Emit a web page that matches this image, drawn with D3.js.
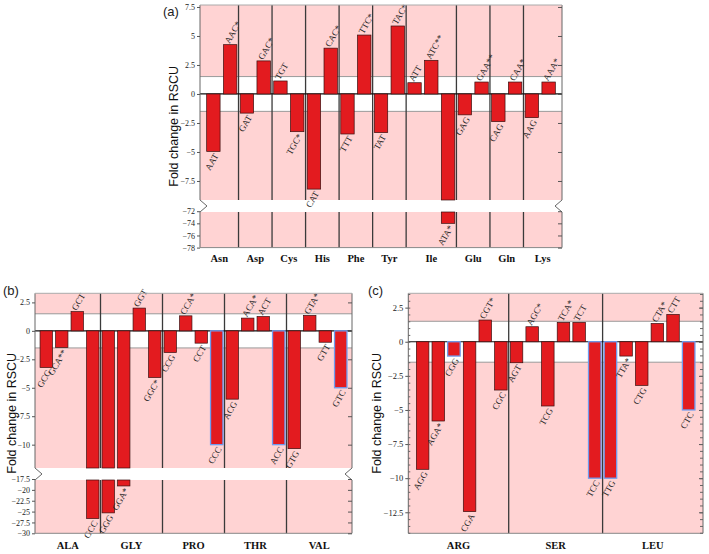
<!DOCTYPE html>
<html><head><meta charset="utf-8">
<script src="https://cdn.jsdelivr.net/npm/d3@7"></script>
<style>html,body{margin:0;padding:0;background:#fff;} svg{display:block;}</style>
</head><body>
<svg id="chart" width="709" height="554"></svg>
<script>
// ---------- data ----------
const aGroups = ["Asn","Asp","Cys","His","Phe","Tyr","Ile","Glu","Gln","Lys"];
const aSizes = [2,2,2,2,2,2,3,2,2,2];
const aCodons = ["AAT","AAC*","GAT","GAC*","TGT","TGC*","CAT","CAC*","TTT","TTC*","TAT","TAC*","ATT","ATC**","ATA*","GAG","GAA**","CAG","CAA*","AAG","AAA*"];
const aValues = [-4.95,4.25,-1.65,2.85,1.12,-3.25,-8.2,3.95,-3.45,5.08,-3.33,5.86,0.97,2.9,-74,-1.8,1.03,-2.38,1.03,-2.04,1.03];
const aCapped = [];
const aTicksUpper = [7.5,5,2.5,0,-2.5,-5,-7.5];
const aTicksLower = [-72,-74,-76,-78];

const bGroups = ["ALA","GLY","PRO","THR","VAL"];
const bSizes = [4,4,4,4,4];
const bCodons = ["GCG","GCA**","GCT","GCC","GGG","GGA*","GGT","GGC*","CCG","CCA*","CCT","CCC","ACG","ACA*","ACT","ACC","GTG","GTA*","GTT","GTC"];
const bValues = [-3.22,-1.46,1.69,-26.6,-25.3,-19.1,2.0,-4.1,-1.9,1.32,-1.08,-10,-6.0,1.12,1.26,-10,-10.35,1.36,-1.0,-5.0];
const bCapped = ["CCC","ACC","GTC"];
const bTicksUpper = [2.5,0,-2.5,-5,-7.5,-10];
const bTicksLower = [-17.5,-20,-22.5,-25,-27.5,-30];

const cGroups = ["ARG","SER","LEU"];
const cSizes = [6,6,6];
const cCodons = ["AGG","AGA*","CGG","CGA","CGT*","CGC","AGT","AGC*","TCG","TCA*","TCT","TCC","TTG","TTA*","CTG","CTA*","CTT","CTC"];
const cValues = [-9.35,-5.81,-1.05,-12.45,1.59,-3.54,-1.54,1.10,-4.71,1.42,1.42,-10,-10,-1.05,-3.2,1.34,2.0,-5.0];
const cCapped = ["CGG","TCC","TTG","CTC"];
const cTicks = [2.5,0,-2.5,-5,-7.5,-10,-12.5];

const yTitle = "Fold change in RSCU";

// ---------- style ----------
const PINK = "#ffd3d3", RED = "#e31b1f", BLUE = "#6f9cf0";
const SERIF = "'Liberation Serif','Times New Roman',serif";
const SANS = "'Liberation Sans',Arial,sans-serif";
const fmt = v => v < 0 ? "\u2212" + Math.abs(v) : String(v);

const svg = d3.select("#chart");

function drawPanel(cfg) {
  const g = svg.append("g");
  const n = cfg.codons.length;
  const x = d3.scaleBand().domain(d3.range(n))
    .range([cfg.left + cfg.pad, cfg.right - cfg.pad]).paddingInner(0.2).paddingOuter(0.1);
  const gap = (x.step() - x.bandwidth()) / 2;
  const yU = d3.scaleLinear().domain(cfg.upperDomain).range(cfg.upperRange);
  const yL = cfg.lowerDomain ? d3.scaleLinear().domain(cfg.lowerDomain).range(cfg.lowerRange) : null;
  const brk = yL ? cfg.upperDomain[1] : -Infinity;
  const top = cfg.upperRange[0];
  const bottom = yL ? cfg.lowerRange[1] : cfg.upperRange[1];
  const W = cfg.right - cfg.left;

  // background
  g.append("rect").attr("x", cfg.left).attr("y", top).attr("width", W).attr("height", bottom - top).attr("fill", PINK);
  g.append("rect").attr("x", cfg.left).attr("y", yU(1.5)).attr("width", W).attr("height", yU(-1.5) - yU(1.5)).attr("fill", "#fff");
  [1.5, -1.5].forEach(v => g.append("line").attr("x1", cfg.left).attr("x2", cfg.right)
    .attr("y1", yU(v)).attr("y2", yU(v)).attr("stroke", "#9a9a9a").attr("stroke-width", 1));

  // group separators
  let cum = 0;
  const groupSpans = [];
  cfg.sizes.forEach((s, gi) => {
    const x0 = gi === 0 ? cfg.left : x(cum) - gap;
    const x1 = gi === cfg.sizes.length - 1 ? cfg.right : x(cum + s - 1) + x.bandwidth() + gap;
    groupSpans.push([x0, x1]);
    if (gi > 0) g.append("line").attr("x1", x0).attr("x2", x0).attr("y1", top).attr("y2", bottom)
      .attr("stroke", "#3a3a3a").attr("stroke-width", 1.3);
    cum += s;
  });

  // break band
  if (yL) {
    g.append("rect").attr("x", cfg.left).attr("y", cfg.upperRange[1]).attr("width", W)
      .attr("height", cfg.lowerRange[0] - cfg.upperRange[1]).attr("fill", "#fff");
  }

  // zero line
  g.append("line").attr("x1", cfg.left).attr("x2", cfg.right).attr("y1", yU(0)).attr("y2", yU(0))
    .attr("stroke", "#111").attr("stroke-width", 1.2);

  // bars
  cfg.values.forEach((v, i) => {
    const capped = cfg.capped.includes(cfg.codons[i]);
    const stroke = capped ? BLUE : "#3a1010";
    const sw = capped ? 1.3 : 0.7;
    const pieces = [];
    if (v >= 0) pieces.push([yU(v), yU(0)]);
    else if (yL && v < brk) { pieces.push([yU(0), cfg.upperRange[1]]); pieces.push([cfg.lowerRange[0], yL(v)]); }
    else pieces.push([yU(0), yU(v)]);
    pieces.forEach(p => g.append("rect").attr("x", x(i)).attr("y", p[0]).attr("width", x.bandwidth())
      .attr("height", p[1] - p[0]).attr("fill", RED).attr("stroke", stroke).attr("stroke-width", sw));
  });

  // codon labels
  cfg.codons.forEach((c, i) => {
    const v = cfg.values[i];
    const cx = x(i) + x.bandwidth() / 2;
    if (v >= 0) {
      const y = yU(v) - 2;
      g.append("text").attr("transform", `translate(${cx - 3},${y}) rotate(-60)`)
        .attr("text-anchor", "start").attr("font-family", SERIF).attr("font-size", cfg.lfs).attr("fill", "#222")
        .attr("dy", "0.3em").text(c);
    } else {
      const y = ((yL && v < brk) ? yL(v) : yU(v)) + 3;
      g.append("text").attr("transform", `translate(${cx + 3},${y}) rotate(-60)`)
        .attr("text-anchor", "end").attr("font-family", SERIF).attr("font-size", cfg.lfs).attr("fill", "#222")
        .attr("dy", "0.3em").text(c);
    }
  });

  // axes lines with break chevrons
  const chev = 7;
  function axisPath(xe, dir) {
    if (!yL) return `M${xe},${top}V${bottom}`;
    const m = (cfg.upperRange[1] + cfg.lowerRange[0]) / 2;
    return `M${xe},${top}V${cfg.upperRange[1]}L${xe + dir * chev},${m}L${xe},${cfg.lowerRange[0]}V${bottom}`;
  }
  g.append("path").attr("d", axisPath(cfg.left, 1)).attr("fill", "none").attr("stroke", "#666").attr("stroke-width", 1);
  g.append("path").attr("d", axisPath(cfg.right, -1)).attr("fill", "none").attr("stroke", "#666").attr("stroke-width", 1);
  g.append("line").attr("x1", cfg.left).attr("x2", cfg.right).attr("y1", top).attr("y2", top).attr("stroke", "#aaa");
  g.append("line").attr("x1", cfg.left).attr("x2", cfg.right).attr("y1", bottom).attr("y2", bottom).attr("stroke", "#888");

  function addAxis(scale, ticks) {
    const la = g.append("g").attr("transform", `translate(${cfg.left},0)`)
      .call(d3.axisLeft(scale).tickValues(ticks).tickSize(3).tickPadding(2).tickFormat(fmt));
    la.select(".domain").remove();
    la.selectAll("text").attr("font-family", cfg.tickFont).attr("font-size", cfg.tfs).attr("fill", "#222");
    la.selectAll("line").attr("stroke", "#555");
    const ra = g.append("g").attr("transform", `translate(${cfg.right},0)`)
      .call(d3.axisLeft(scale).tickValues(ticks).tickSize(4).tickFormat(""));
    ra.select(".domain").remove();
    ra.selectAll("line").attr("stroke", "#555");
  }
  addAxis(yU, cfg.ticksUpper);
  if (yL) addAxis(yL, cfg.ticksLower);
  if (cfg.minor) {
    const mt = cfg.minor;
    const ml = g.append("g").attr("transform", `translate(${cfg.left},0)`)
      .call(d3.axisRight(yU).tickValues(mt).tickSize(2).tickFormat(""));
    ml.select(".domain").remove(); ml.selectAll("line").attr("stroke", "#666");
    const mr = g.append("g").attr("transform", `translate(${cfg.right},0)`)
      .call(d3.axisLeft(yU).tickValues(mt).tickSize(3).tickFormat(""));
    mr.select(".domain").remove(); mr.selectAll("line").attr("stroke", "#666");
  }

  // group labels
  cfg.groups.forEach((name, gi) => {
    const [x0, x1] = groupSpans[gi];
    g.append("text").attr("x", (x0 + x1) / 2).attr("y", cfg.xLabelY).attr("text-anchor", "middle")
      .attr("font-family", SERIF).attr("font-weight", "bold").attr("font-size", 10.5).attr("fill", "#111").text(name);
  });

  // y title
  g.append("text").attr("transform", `translate(${cfg.yTitleX},${(top + bottom) / 2}) rotate(-90)`)
    .attr("text-anchor", "middle").attr("font-family", SANS).attr("font-size", 12.5).attr("fill", "#111").text(yTitle);

  // panel title
  g.append("text").attr("x", cfg.titleX).attr("y", cfg.titleY).attr("font-family", SANS)
    .attr("font-size", 13).attr("fill", "#222").text(cfg.title);
}

drawPanel({
  title: "(a)", titleX: 163, titleY: 16,
  groups: aGroups, sizes: aSizes, codons: aCodons, values: aValues, capped: aCapped,
  left: 200, right: 562, pad: 5,
  upperDomain: [7.67, -9.14], upperRange: [5, 200],
  lowerDomain: [-72.13, -78], lowerRange: [212, 247.6],
  ticksUpper: aTicksUpper, ticksLower: aTicksLower,
  tickFont: SERIF, tfs: 8, lfs: 9, xLabelY: 262, yTitleX: 178
});

drawPanel({
  title: "(b)", titleX: 3, titleY: 295,
  groups: bGroups, sizes: bSizes, codons: bCodons, values: bValues, capped: bCapped,
  left: 35, right: 352, pad: 3.5,
  upperDomain: [3.3, -12.05], upperRange: [293.3, 468],
  lowerDomain: [-17.73, -30], lowerRange: [480, 533.3],
  ticksUpper: bTicksUpper, ticksLower: bTicksLower,
  tickFont: SERIF, tfs: 8, lfs: 9, xLabelY: 549, yTitleX: 16
});

drawPanel({
  title: "(c)", titleX: 368, titleY: 295,
  groups: cGroups, sizes: cSizes, codons: cCodons, values: cValues, capped: cCapped,
  left: 408.3, right: 703, pad: 6.5,
  upperDomain: [3.55, -14.04], upperRange: [293.3, 533.3],
  ticksUpper: cTicks, minor: d3.range(-14, 3.51, 0.5),
  tickFont: SERIF, tfs: 8.5, lfs: 9, xLabelY: 549, yTitleX: 381
});
</script>
</body></html>
